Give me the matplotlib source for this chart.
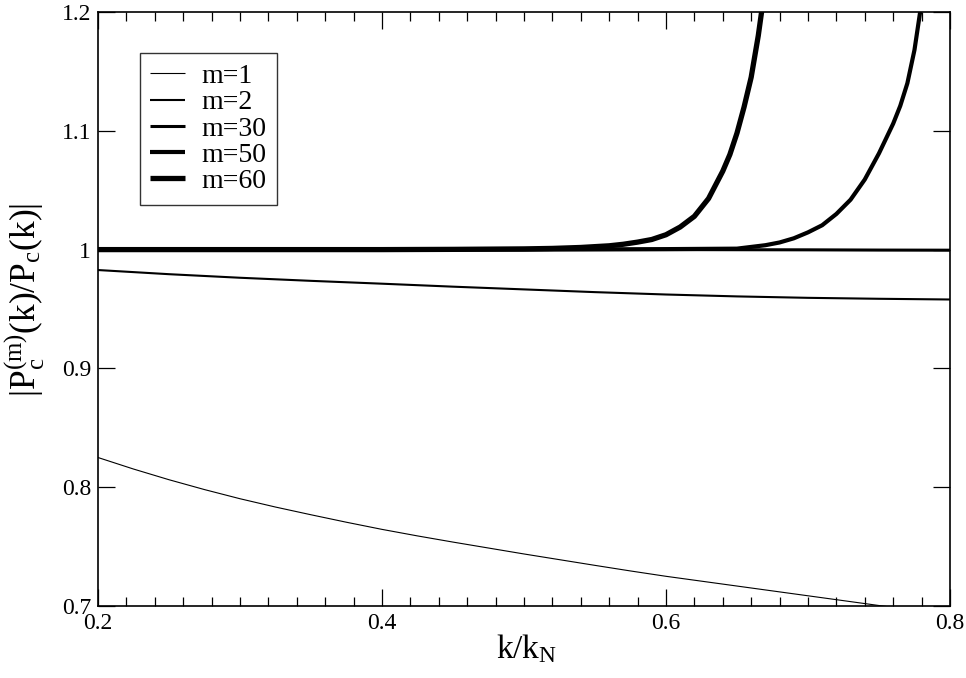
import numpy as np
import matplotlib.pyplot as plt
from matplotlib.ticker import MultipleLocator, FormatStrFormatter

# values
k_m1 = [0.2, 0.225, 0.25, 0.275, 0.3, 0.325, 0.35, 0.375, 0.4, 0.425, 0.45,
        0.475, 0.5, 0.525, 0.55, 0.575, 0.6, 0.625, 0.65, 0.675, 0.7, 0.725,
        0.75, 0.775, 0.8]
ratio_m1 = [0.825, 0.8153, 0.8063, 0.798, 0.7903, 0.7833, 0.7768, 0.7705,
            0.7645, 0.759, 0.7538, 0.7488, 0.7438, 0.739, 0.7342, 0.7295,
            0.725, 0.7209, 0.7168, 0.7127, 0.7086, 0.7045, 0.7004, 0.6965,
            0.6925]

k_m2 = [0.2, 0.25, 0.3, 0.35, 0.4, 0.45, 0.5, 0.55, 0.6, 0.65, 0.7, 0.75, 0.8]
ratio_m2 = [0.9828, 0.9793, 0.9763, 0.9737, 0.9713, 0.9688, 0.9665, 0.9642,
            0.9622, 0.9606, 0.9594, 0.9586, 0.958]

k_m30 = [0.2, 0.4, 0.6, 0.65, 0.7, 0.75, 0.8]
ratio_m30 = [1.0, 1.0, 1.0, 0.9999, 0.9998, 0.9996, 0.9995]

k_m50 = [0.2, 0.4, 0.5, 0.55, 0.6, 0.65, 0.67, 0.68, 0.69, 0.70, 0.71, 0.72,
         0.73, 0.74, 0.75, 0.76, 0.765, 0.77, 0.775, 0.779, 0.783]
ratio_m50 = [1.0, 1.0, 1.0, 1.0002, 1.0004, 1.0008, 1.0037, 1.006, 1.0095,
             1.0145, 1.0205, 1.030, 1.042, 1.059, 1.081, 1.106, 1.121, 1.140,
             1.168, 1.2, 1.23]

k_m60 = [0.2, 0.4, 0.45, 0.5, 0.52, 0.54, 0.56, 0.57, 0.58, 0.59, 0.60, 0.61,
         0.62, 0.63, 0.64, 0.645, 0.65, 0.655, 0.66, 0.665, 0.6685, 0.672]
ratio_m60 = [1.0, 1.0, 1.0002, 1.0006, 1.001, 1.0018, 1.0032, 1.0045, 1.0063,
             1.0085, 1.0125, 1.019, 1.028, 1.043, 1.066, 1.080, 1.098, 1.120,
             1.145, 1.18, 1.21, 1.24]

labels = ['m=1', 'm=2', 'm=30', 'm=50', 'm=60']
widths = [0.8, 1.5, 2.2, 3.0, 3.8]

plt.rcParams['font.family'] = ['Liberation Serif', 'DejaVu Serif']
plt.rcParams['mathtext.fontset'] = 'custom'
plt.rcParams['mathtext.rm'] = 'Liberation Serif'
plt.rcParams['mathtext.it'] = 'Liberation Serif:italic'

fig = plt.figure(figsize=(9.66, 6.78), dpi=100)
ax = fig.add_axes([0.1014, 0.1062, 0.8820, 0.8761])

xs = [k_m1, k_m2, k_m30, k_m50, k_m60]
ys = [ratio_m1, ratio_m2, ratio_m30, ratio_m50, ratio_m60]
for x, y, lab, lw in zip(xs, ys, labels, widths):
    ax.plot(x, y, color='black', lw=lw, label=lab, solid_capstyle='butt',
            solid_joinstyle='round')

ax.set_xlim(0.2, 0.8)
ax.set_ylim(0.7, 1.2)
ax.xaxis.set_major_locator(MultipleLocator(0.2))
ax.xaxis.set_minor_locator(MultipleLocator(0.02))
ax.yaxis.set_major_locator(MultipleLocator(0.1))
ax.xaxis.set_major_formatter(FormatStrFormatter('%g'))
ax.yaxis.set_major_formatter(FormatStrFormatter('%g'))
ax.tick_params(which='both', direction='in', top=True, right=True,
               labelsize=17, pad=5, width=0.9)
ax.tick_params(which='major', length=12)
ax.tick_params(which='minor', length=6.5)
for sp in ax.spines.values():
    sp.set_linewidth(1.2)

ax.set_xlabel(r'k/k$_\mathrm{N}$', fontsize=24)
ax.xaxis.set_label_coords(0.503, -0.045)
ax.set_ylabel(r'|P$_\mathrm{c}^\mathrm{(m)}$(k)/P$_\mathrm{c}$(k)|',
              fontsize=25.5)
ax.yaxis.set_label_coords(-0.06, 0.515)

leg = ax.legend(loc='upper left', bbox_to_anchor=(0.049, 0.931),
                borderaxespad=0, fontsize=20, frameon=True, fancybox=False,
                handlelength=1.26, handletextpad=0.58, labelspacing=0.03,
                borderpad=0.38)
leg.get_frame().set_edgecolor('black')
leg.get_frame().set_linewidth(1.0)

fig.savefig('out.png', dpi=100)
